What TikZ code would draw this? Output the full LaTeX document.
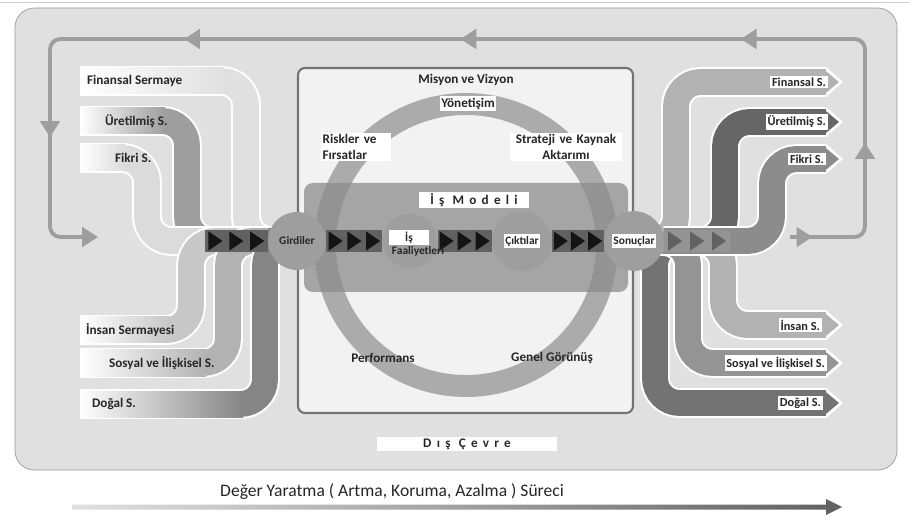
\documentclass[tikz,border=0pt]{standalone}
\usepackage{fontspec}
\setmainfont{Carlito}
\usetikzlibrary{arrows.meta,decorations.markings}

\pgfdeclarelayer{back}
\pgfdeclarelayer{front}
\pgfsetlayers{back,main,front}

\tikzset{
  txt/.style={font=\fontsize{7.5}{9}\selectfont\bfseries, text=black!85, inner sep=1pt},
  box/.style={txt, fill=white},
  tag/.style={box, font=\fontsize{7}{8}\selectfont\bfseries},
  hub/.style={circle, fill=black!38, inner sep=0pt, minimum size=#1},
  cycleline/.style={color=black!38, line width=2.2pt, rounded corners=6pt,
    -{Triangle[length=9pt,width=11pt]}, postaction={decorate},
    decoration={markings,
      mark=at position 0.017 with {\arrow{Triangle[length=9pt,width=11pt]}},
      mark=at position 0.125 with {\arrow{Triangle[length=9pt,width=11pt]}},
      mark=at position 0.295 with {\arrow{Triangle[length=9pt,width=11pt]}},
      mark=at position 0.508 with {\arrow{Triangle[length=9pt,width=11pt]}},
      mark=at position 0.718 with {\arrow{Triangle[length=9pt,width=11pt]}},
      mark=at position 0.891 with {\arrow{Triangle[length=9pt,width=11pt]}}}},
  pipeedge/.style={draw=white, line width=17pt, rounded corners=14pt},
  pipecore/.style={line width=14.7pt, rounded corners=14pt},
  bar/.style 2 args={draw=#1, line width=13pt, postaction={decorate},
    decoration={markings,
      mark=at position 0.1667 with {\fill[#2] (-4pt,-5.5pt) -- (4pt,0pt) -- (-4pt,5.5pt) -- cycle;},
      mark=at position 0.5 with {\fill[#2] (-4pt,-5.5pt) -- (4pt,0pt) -- (-4pt,5.5pt) -- cycle;},
      mark=at position 0.8333 with {\fill[#2] (-4pt,-5.5pt) -- (4pt,0pt) -- (-4pt,5.5pt) -- cycle;}}},
}

\begin{document}
\begin{tikzpicture}[x=0.02cm, y=-0.02cm]
\useasboundingbox (0,0) rectangle (909,523);

% hubs of the flow
\begin{pgfonlayer}{front}
\node[hub=33pt, txt, font=\fontsize{6.5}{8}\selectfont\bfseries] (girdiler) at (297,241) {Girdiler};
\node[hub=31pt] (faaliyet) at (410,241) {};
\node[tag, minimum width=23pt, font=\fontsize{6.5}{8}\selectfont\bfseries] (faaliyetIs) at (409,237.5) {İş};
\node[txt, font=\fontsize{6.5}{8}\selectfont\bfseries] (faaliyetT) at (418,251) {Faaliyetleri};
\node[hub=34pt] (ciktilar) at (522,241) {};
\node[tag, font=\fontsize{6.5}{8}\selectfont\bfseries] (ciktilarT) at (ciktilar) {Çıktılar};
\node[hub=34pt] (sonuclar) at (634,241) {};
\node[tag, font=\fontsize{6.5}{8}\selectfont\bfseries] (sonuclarT) at (sonuclar) {Sonuçlar};
\end{pgfonlayer}

% frames, loop, ring
\begin{pgfonlayer}{back}
\draw[black!20] (0,2) -- (909,2);
\draw[black!40, fill=black!12, rounded corners=11pt] (15,8) rectangle (897,470);
\draw[cycleline] (790,237) -- (865,237) -- (865,39) -- (50,39) -- (50,237) -- (98,237);
\draw[black!55, fill=black!5, line width=1.2pt, rounded corners=4pt] (298,68) rectangle (633,413);
\draw[black!33, line width=12.5pt] (466,245) circle (141);
\fill[black!45, opacity=.75, rounded corners=5pt] (304,183) rectangle (628,292);
\end{pgfonlayer}

% inputs
\foreach \name/\yh/\xv/\col in {finIn/81/246/black!12, uretIn/121/187/black!38,
    fikIn/158/147/black!14, insIn/330/191/black!22, sosIn/363/228/black!30, dogIn/404/265/black!48}{
  \coordinate (\name) at (80,\yh);
  \draw[pipeedge] (\name) -- (\xv,\yh) |- (girdiler);
  \draw[pipecore, draw=\col] (\name) -- (\xv,\yh) |- (girdiler);
  \shade[left color=white, right color=\col] (80,\yh-13) rectangle (\xv-22,\yh+13);
}

% outputs
\foreach \name/\yh/\xv/\col in {dogOut/403/655/black!55, finOut/82/676/black!30,
    sosOut/363/688/black!42, insOut/325/723/black!30, uretOut/122/725/black!60, fikOut/159/772/black!45}{
  \coordinate (\name) at (826,\yh);
  \draw[pipeedge] (sonuclar) -| (\xv,\yh) -- (\name);
  \draw[pipecore, draw=\col] (sonuclar) -| (\xv,\yh) -- (\name);
  \fill[white] (826,\yh-15) -- (843,\yh) -- (826,\yh+15) -- cycle;
  \fill[\col] (824,\yh-12.5) -- (839,\yh) -- (824,\yh+12.5) -- cycle;
}

% chevron bars
\coordinate (inlet) at (205,241);
\coordinate (outlet) at (730,241);
\draw[bar={black!62}{black!92}] (inlet) -- (girdiler);
\draw[bar={black!62}{black!92}] (girdiler) -- (faaliyet);
\draw[bar={black!62}{black!92}] (faaliyet) -- (ciktilar);
\draw[bar={black!62}{black!92}] (ciktilar) -- (sonuclar);
\draw[bar={black!42}{black!62}] (sonuclar) -- (outlet);

% capital labels
\node[txt, anchor=west] (finLbl) at (85,81) {Finansal Sermaye};
\node[txt, anchor=west] (uretLbl) at (103,121) {Üretilmiş S.};
\node[txt, anchor=west] (fikLbl) at (113,158) {Fikri S.};
\node[txt, anchor=west] (insLbl) at (84,330) {İnsan Sermayesi};
\node[txt, anchor=west] (sosLbl) at (107,363) {Sosyal ve İlişkisel S.};
\node[txt, anchor=west] (dogLbl) at (90,404) {Doğal S.};
\node[tag, anchor=east] (finTag) at (828,82) {Finansal S.};
\node[tag, anchor=east] (uretTag) at (828,122) {Üretilmiş S.};
\node[tag, anchor=east] (fikTag) at (826,159) {Fikri S.};
\node[tag, anchor=east] (insTag) at (822,325) {İnsan S.};
\node[tag, anchor=east] (sosTag) at (827,363) {Sosyal ve İlişkisel S.};
\node[tag, anchor=east] (dogTag) at (823,403) {Doğal S.};

% inner texts
\node[txt] (misyon) at (466,80) {Misyon ve Vizyon};
\node[box] (yonetisim) at (468,104) {Yönetişim};
\node[box, text width=38pt, align=left] (riskler) at (356,147) {Riskler ve\\Fırsatlar};
\node[box, text width=62pt, align=center] (strateji) at (566,147) {Strateji ve Kaynak\\Aktarımı};
\node[box, minimum width=63pt, minimum height=8pt] (isModeli) at (474,200) {\addfontfeatures{LetterSpace=40}İş Modeli};
\node[txt] (performans) at (383,358) {Performans};
\node[txt] (genel) at (552,358) {Genel Görünüş};
\node[box, minimum width=102pt, minimum height=8.5pt] (disCevre) at (467,444) {\addfontfeatures{LetterSpace=40}Dış Çevre};

% value creation arrow
\node[txt, font=\fontsize{10}{12}\selectfont] (surec) at (392,492) {Değer Yaratma ( Artma, Koruma, Azalma ) Süreci};
\shade[left color=black!12, right color=black!62] (72,504.5) -- (826,504.5) -- (826,499)
  -- (842,507) -- (826,515) -- (826,509.5) -- (72,509.5) -- cycle;
\end{tikzpicture}
\end{document}
